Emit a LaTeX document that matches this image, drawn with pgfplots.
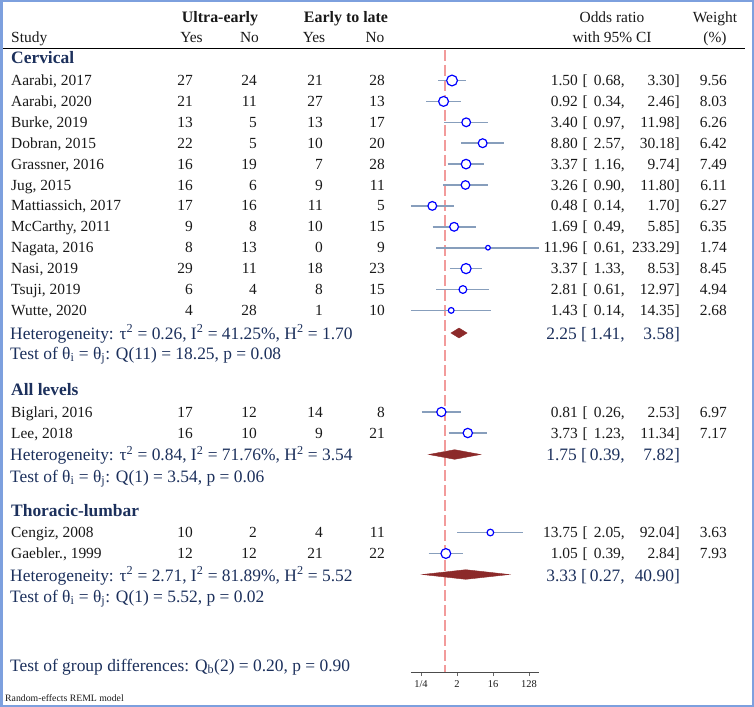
\documentclass[border=0pt]{standalone}
\usepackage{fontspec}
\setmainfont{Liberation Serif}
\usepackage{pgfplots}
\pgfplotsset{compat=1.18}
\usepackage{pgfplotstable}

\definecolor{navy}{RGB}{28,48,92}
\definecolor{cigray}{RGB}{135,158,188}
\definecolor{diam}{RGB}{140,42,42}
\definecolor{refred}{RGB}{242,155,155}
\definecolor{framec}{RGB}{125,160,222}
\definecolor{txt}{RGB}{25,25,25}

% study rows: y (row centre, negative page y), odds ratio, 95% CI, weight
\pgfplotstableread{
y      or     lo    hi      w
-80.5  1.50   0.68  3.30    9.56
-101.4 0.92   0.34  2.46    8.03
-122.3 3.40   0.97  11.98   6.26
-143.2 8.80   2.57  30.18   6.42
-164.1 3.37   1.16  9.74    7.49
-185.0 3.26   0.90  11.80   6.11
-205.9 0.48   0.14  1.70    6.27
-226.8 1.69   0.49  5.85    6.35
-247.7 11.96  0.61  233.29  1.74
-268.6 3.37   1.33  8.53    8.45
-289.5 2.81   0.61  12.97   4.94
-310.4 1.43   0.14  14.35   2.68
-412.0 0.81   0.26  2.53    6.97
-433.0 3.73   1.23  11.34   7.17
-532.5 13.75  2.05  92.04   3.63
-553.5 1.05   0.39  2.84    7.93
}\studies

\newcommand\fs[1]{\fontsize{#1}{#1}\selectfont}
% left part of a study row: y, name, four counts
\newcommand\lrow[6]{%
  \node[anchor=base west] at (11,#1+5) {#2};
  \node[anchor=base east] at (193,#1+5) {#3};
  \node[anchor=base east] at (257,#1+5) {#4};
  \node[anchor=base east] at (323,#1+5) {#5};
  \node[anchor=base east] at (385,#1+5) {#6};}
% right part of a study row: y, OR, lower, upper, weight
\newcommand\rrow[5]{%
  \node[anchor=base east] at (578,#1+5) {#2};
  \node[anchor=base west] at (582.5,#1+5) {[};
  \node[anchor=base east] at (625,#1+5) {#3,};
  \node[anchor=base east] at (680,#1+5) {#4]};
  \node[anchor=base east] at (727,#1+5) {#5};}
% subgroup summary
\newcommand\srow[5]{%
  \node[anchor=base west] at (10,#1+6) {#2};
  \node[anchor=base east] at (577,#1+6) {#3};
  \node[anchor=base west] at (581,#1+6) {[};
  \node[anchor=base east] at (625,#1+6) {#4,};
  \node[anchor=base east] at (680,#1+6) {#5]};}
\newcommand\sq{\textsuperscript{2}}

\begin{document}
\begin{tikzpicture}
\begin{scope}[x=1bp, y=-1bp, every node/.style={inner sep=0pt, text=txt}]
  \path[use as bounding box] (0,0) rectangle (754,707);
  \draw[framec, line width=2bp] (1.5,1.5) rectangle (752.5,705.5);
  \draw[black, line width=0.8bp] (3,48) -- (745,48);

  % header
  \begin{scope}[every node/.append style={font=\fs{16}\bfseries}]
    \node[anchor=base] at (220,23) {Ultra-early};
    \node[anchor=base] at (346,23) {Early to late};
  \end{scope}
  \begin{scope}[every node/.append style={font=\fs{15.5}}]
    \node[anchor=base west] at (11,43) {Study};
    \node[anchor=base] at (191.5,43) {Yes};
    \node[anchor=base] at (249.5,43) {No};
    \node[anchor=base] at (314,43) {Yes};
    \node[anchor=base] at (375,43) {No};
    \node[anchor=base] at (612,23) {Odds ratio};
    \node[anchor=base] at (612,43) {with 95\% CI};
    \node[anchor=base] at (715,23) {Weight};
    \node[anchor=base] at (715,43) {(\%)};

    \lrow{80.5}{Aarabi, 2017}{27}{24}{21}{28}
    \lrow{101.4}{Aarabi, 2020}{21}{11}{27}{13}
    \lrow{122.3}{Burke, 2019}{13}{5}{13}{17}
    \lrow{143.2}{Dobran, 2015}{22}{5}{10}{20}
    \lrow{164.1}{Grassner, 2016}{16}{19}{7}{28}
    \lrow{185}{Jug, 2015}{16}{6}{9}{11}
    \lrow{205.9}{Mattiassich, 2017}{17}{16}{11}{5}
    \lrow{226.8}{McCarthy, 2011}{9}{8}{10}{15}
    \lrow{247.7}{Nagata, 2016}{8}{13}{0}{9}
    \lrow{268.6}{Nasi, 2019}{29}{11}{18}{23}
    \lrow{289.5}{Tsuji, 2019}{6}{4}{8}{15}
    \lrow{310.4}{Wutte, 2020}{4}{28}{1}{10}
    \lrow{412}{Biglari, 2016}{17}{12}{14}{8}
    \lrow{433}{Lee, 2018}{16}{10}{9}{21}
    \lrow{532.5}{Cengiz, 2008}{10}{2}{4}{11}
    \lrow{553.5}{Gaebler., 1999}{12}{12}{21}{22}

    \rrow{80.5}{1.50}{0.68}{3.30}{9.56}
    \rrow{101.4}{0.92}{0.34}{2.46}{8.03}
    \rrow{122.3}{3.40}{0.97}{11.98}{6.26}
    \rrow{143.2}{8.80}{2.57}{30.18}{6.42}
    \rrow{164.1}{3.37}{1.16}{9.74}{7.49}
    \rrow{185}{3.26}{0.90}{11.80}{6.11}
    \rrow{205.9}{0.48}{0.14}{1.70}{6.27}
    \rrow{226.8}{1.69}{0.49}{5.85}{6.35}
    \rrow{247.7}{11.96}{0.61}{233.29}{1.74}
    \rrow{268.6}{3.37}{1.33}{8.53}{8.45}
    \rrow{289.5}{2.81}{0.61}{12.97}{4.94}
    \rrow{310.4}{1.43}{0.14}{14.35}{2.68}
    \rrow{412}{0.81}{0.26}{2.53}{6.97}
    \rrow{433}{3.73}{1.23}{11.34}{7.17}
    \rrow{532.5}{13.75}{2.05}{92.04}{3.63}
    \rrow{553.5}{1.05}{0.39}{2.84}{7.93}
  \end{scope}

  \begin{scope}[every node/.append style={font=\fs{17.5}, text=navy}]
    \node[anchor=base west, font=\fs{17.5}\bfseries] at (11,64) {Cervical};
    \node[anchor=base west, font=\fs{17.5}\bfseries] at (11,395) {All levels};
    \node[anchor=base west, font=\fs{17.5}\bfseries] at (11,516) {Thoracic-lumbar};

    \srow{333}{Heterogeneity: τ\sq{} = 0.26, I\sq{} = 41.25\%, H\sq{} = 1.70}{2.25}{1.41}{3.58}
    \node[anchor=base west] at (10,359) {Test of θ\textsubscript{i} = θ\textsubscript{j}: Q(11) = 18.25, p = 0.08};
    \srow{454.5}{Heterogeneity: τ\sq{} = 0.84, I\sq{} = 71.76\%, H\sq{} = 3.54}{1.75}{0.39}{7.82}
    \node[anchor=base west] at (10,482) {Test of θ\textsubscript{i} = θ\textsubscript{j}: Q(1) = 3.54, p = 0.06};
    \srow{575}{Heterogeneity: τ\sq{} = 2.71, I\sq{} = 81.89\%, H\sq{} = 5.52}{3.33}{0.27}{40.90}
    \node[anchor=base west] at (10,602) {Test of θ\textsubscript{i} = θ\textsubscript{j}: Q(1) = 5.52, p = 0.02};
    \node[anchor=base west] at (10,671) {Test of group differences: Q\textsubscript{b}(2) = 0.20, p = 0.90};
  \end{scope}
  \node[anchor=base west, font=\fs{9.8}] at (5,701) {Random-effects REML model};
\end{scope}

\begin{axis}[
  at={(410.96bp,-672bp)}, anchor=south west,
  scale only axis, width=128.43bp, height=622bp,
  xmode=log, log basis x=2,
  xmin=0.14, xmax=233.29, ymin=-672, ymax=-50,
  axis x line=bottom, axis y line=none,
  x axis line style={-, draw=black!70, line width=0.6pt},
  xtick={0.25,2,16,128}, xticklabels={1/4,2,16,128},
  xminorticks=false,
  tick align=outside, major tick length=4bp,
  xtick style={draw=black!60, line width=0.6pt},
  xticklabel style={font=\fs{10.5}, text=txt, inner sep=0pt, yshift=-4bp},
  /pgf/number format/assume math mode=true,
  clip=false,
]
% line at no effect
\addplot[refred, line width=1.3pt, dash pattern=on 11bp off 4bp] coordinates {(1,-50) (1,-672)};
% confidence intervals
\addplot[cigray, line width=1.6pt, unbounded coords=jump] coordinates {
  (0.68,-80.5) (3.30,-80.5) (nan,nan)
  (0.34,-101.4) (2.46,-101.4) (nan,nan)
  (0.97,-122.3) (11.98,-122.3) (nan,nan)
  (2.57,-143.2) (30.18,-143.2) (nan,nan)
  (1.16,-164.1) (9.74,-164.1) (nan,nan)
  (0.90,-185) (11.80,-185) (nan,nan)
  (0.14,-205.9) (1.70,-205.9) (nan,nan)
  (0.49,-226.8) (5.85,-226.8) (nan,nan)
  (0.61,-247.7) (233.29,-247.7) (nan,nan)
  (1.33,-268.6) (8.53,-268.6) (nan,nan)
  (0.61,-289.5) (12.97,-289.5) (nan,nan)
  (0.14,-310.4) (14.35,-310.4) (nan,nan)
  (0.26,-412) (2.53,-412) (nan,nan)
  (1.23,-433) (11.34,-433) (nan,nan)
  (2.05,-532.5) (92.04,-532.5) (nan,nan)
  (0.39,-553.5) (2.84,-553.5)
};
% study estimates, marker area by weight
\addplot[scatter, only marks, mark=*,
  scatter/use mapped color={draw=blue, fill=white},
  mark options={line width=1.2pt},
  visualization depends on={1.75*sqrt(\thisrow{w}) \as \msz},
  scatter/@pre marker code/.append style={/tikz/mark size=\msz}]
  table[x=or, y=y] {\studies};
% subgroup diamonds
\addplot[fill=diam, draw=diam] coordinates {(1.41,-333) (2.25,-328) (3.58,-333) (2.25,-338)} -- cycle;
\addplot[fill=diam, draw=diam] coordinates {(0.39,-454.5) (1.75,-449.7) (7.82,-454.5) (1.75,-459.3)} -- cycle;
\addplot[fill=diam, draw=diam] coordinates {(0.27,-574.5) (3.33,-569.7) (40.90,-574.5) (3.33,-579.3)} -- cycle;
\end{axis}
\end{tikzpicture}
\end{document}
